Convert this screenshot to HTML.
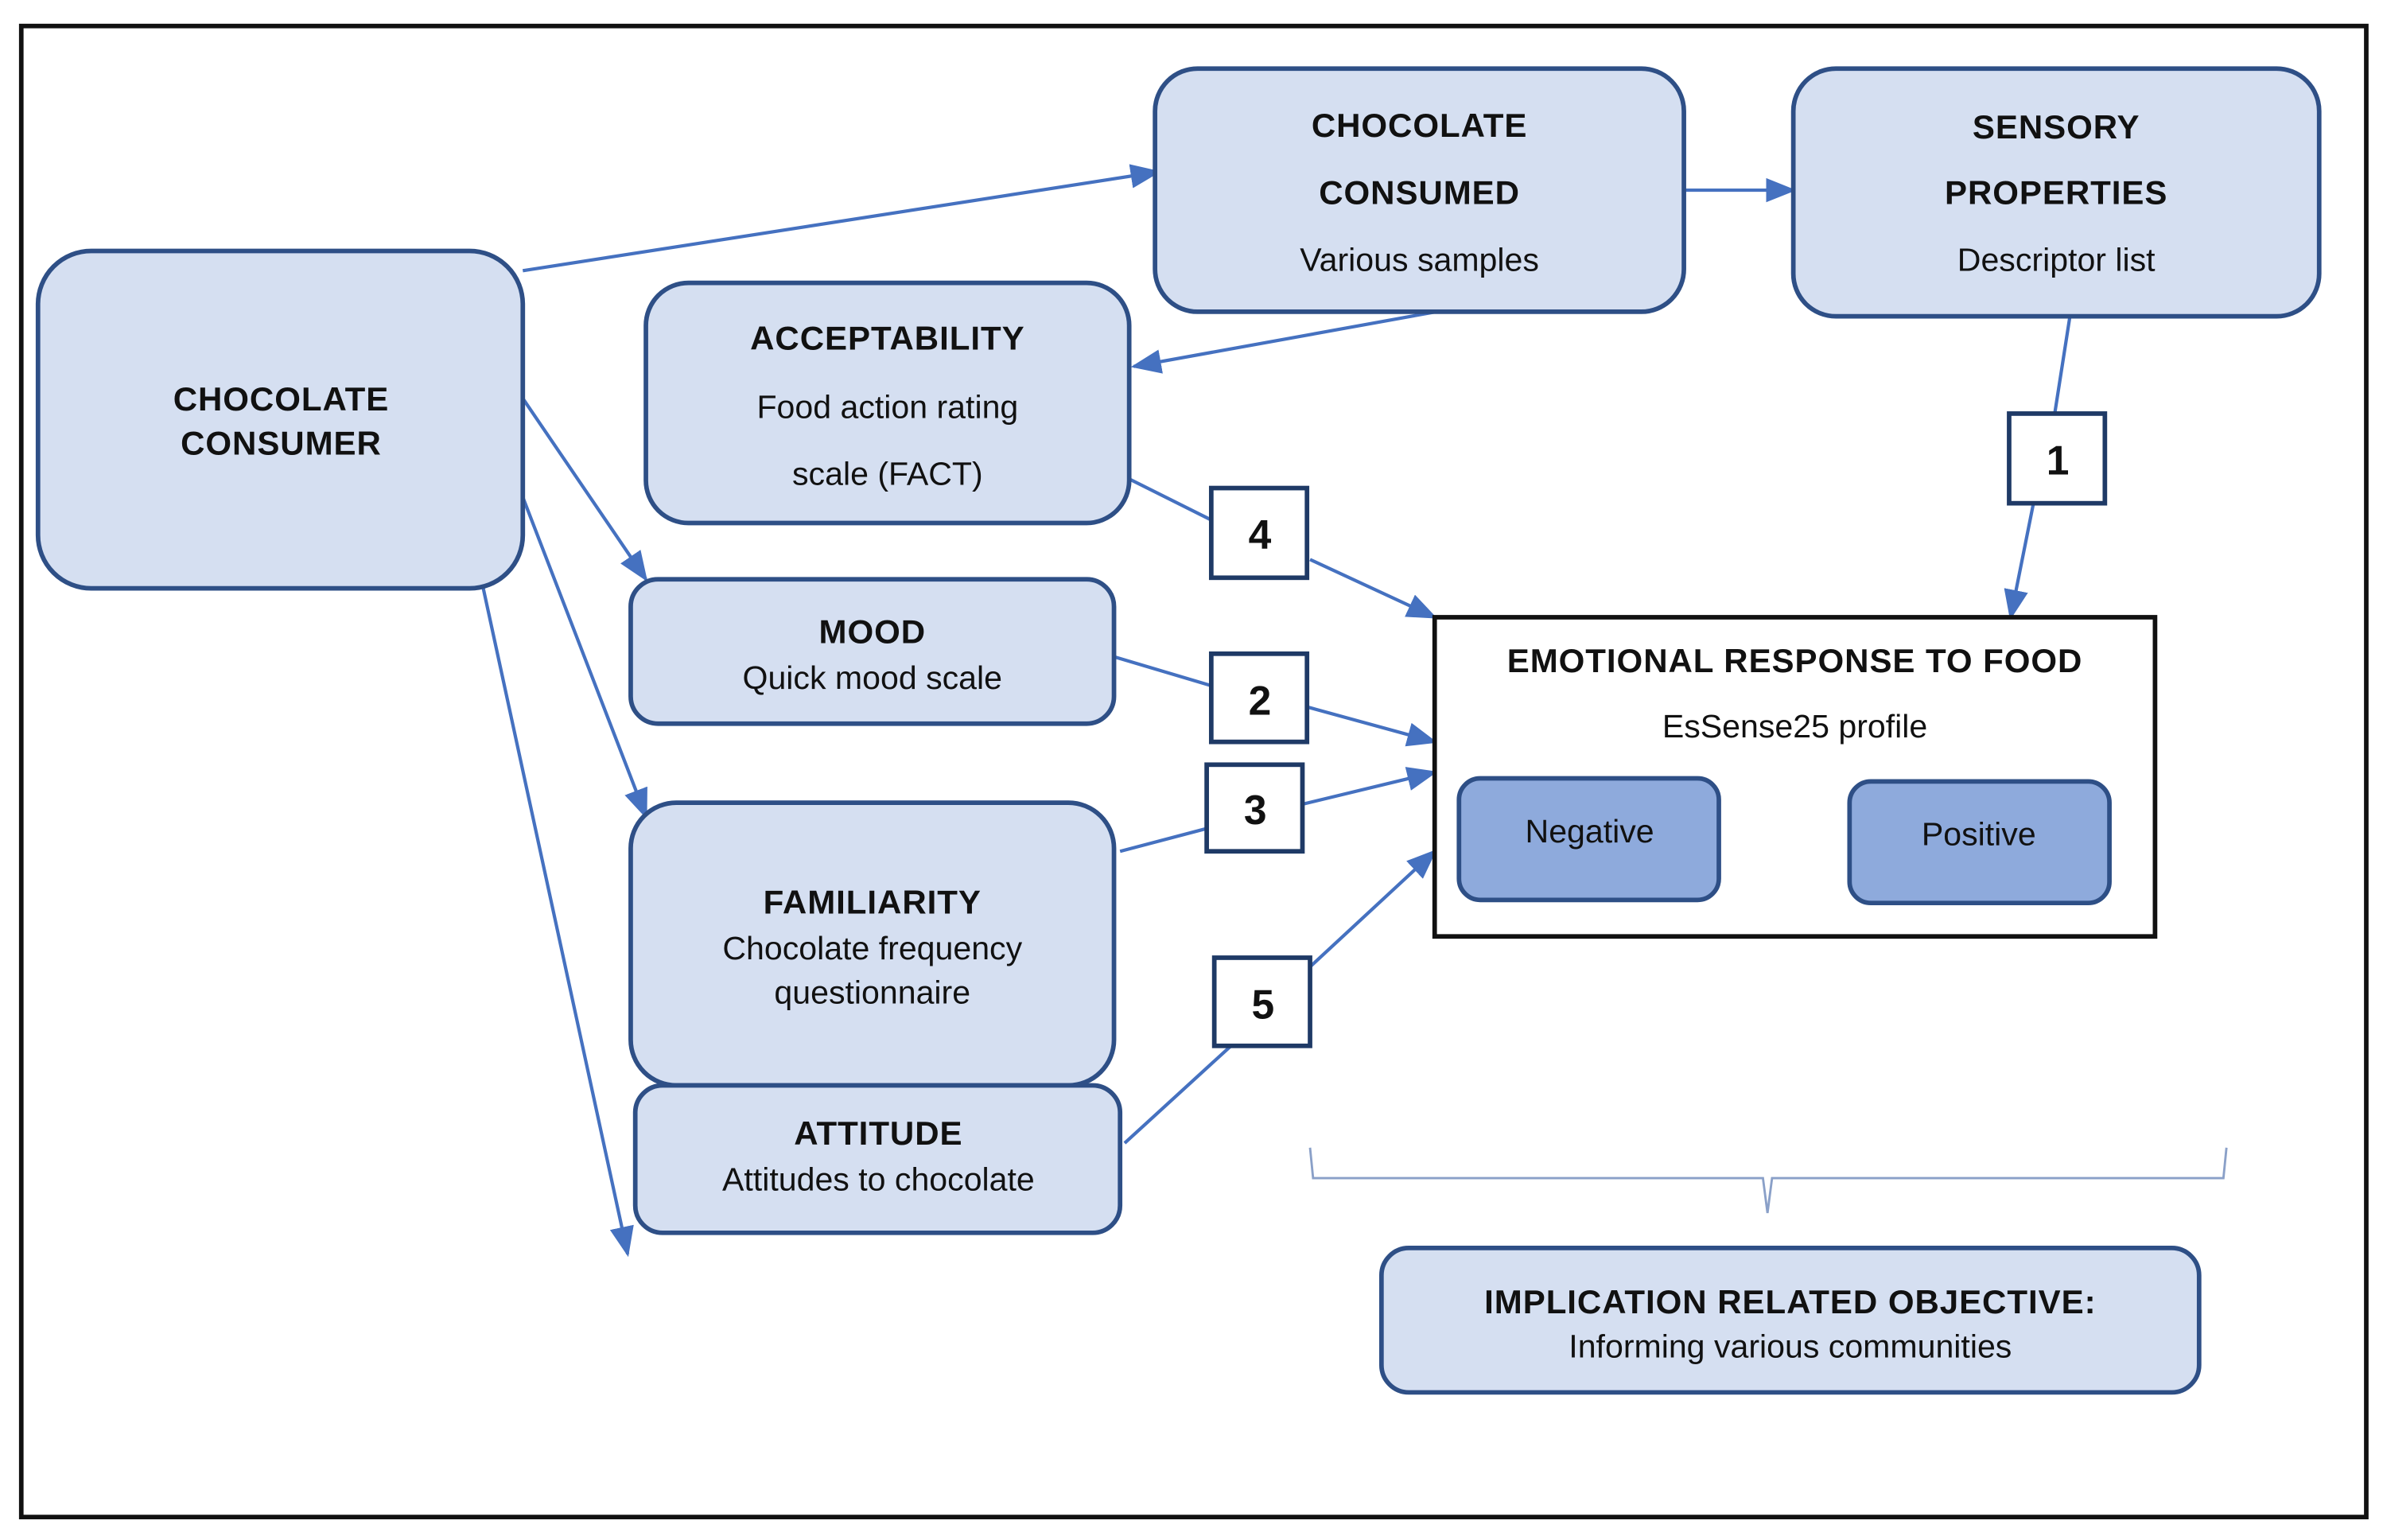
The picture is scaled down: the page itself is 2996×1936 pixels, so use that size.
<!DOCTYPE html>
<html><head><meta charset="utf-8"><style>
html,body{margin:0;padding:0;background:#fff;}
svg{display:block;}
text{font-family:"Liberation Sans",Arial,sans-serif;fill:#111;text-anchor:middle;}
.b{font-weight:bold;font-size:22px;letter-spacing:0.5px;}
.n{font-size:21.5px;}
.num{font-weight:bold;font-size:27px;}
.bx{fill:#d5dff1;stroke:#2e4f86;stroke-width:3;}
.dk{fill:#8eaadc;stroke:#2e4f86;stroke-width:3;}
.ln{stroke:#4571c0;stroke-width:2.2;fill:none;}
.nb{fill:#fff;stroke:#1f3a66;stroke-width:3;}
</style></head><body>
<svg width="2996" height="1936" viewBox="0 0 1568 1013" xmlns="http://www.w3.org/2000/svg">
<defs>
<marker id="a" markerWidth="10" markerHeight="10" refX="9" refY="5" orient="auto" markerUnits="userSpaceOnUse" viewBox="0 0 10 10">
<path d="M0,0 L10,5 L0,10 z" fill="#4571c0" transform="scale(1)"/>
</marker>
<marker id="A" markerWidth="20" markerHeight="16" refX="18" refY="8" orient="auto" markerUnits="userSpaceOnUse">
<path d="M0,0 L20,8 L0,16 z" fill="#4571c0"/>
</marker>
</defs>
<rect x="0" y="0" width="1568" height="1013" fill="#fff"/>
<rect x="14" y="17" width="1543" height="981" fill="none" stroke="#111" stroke-width="3"/>

<!-- connectors -->
<line class="ln" x1="344" y1="178" x2="762" y2="113" marker-end="url(#A)"/>
<line class="ln" x1="1108" y1="125" x2="1180" y2="125" marker-end="url(#A)"/>
<line class="ln" x1="945" y1="205" x2="746" y2="241" marker-end="url(#A)"/>
<line class="ln" x1="1362" y1="208" x2="1352" y2="272"/>
<line class="ln" x1="1338" y1="331" x2="1323" y2="406" marker-end="url(#A)"/>
<line class="ln" x1="743" y1="315" x2="797" y2="342"/>
<line class="ln" x1="862" y1="368" x2="944" y2="406" marker-end="url(#A)"/>
<line class="ln" x1="733" y1="432" x2="797" y2="451"/>
<line class="ln" x1="860" y1="465" x2="944" y2="488" marker-end="url(#A)"/>
<line class="ln" x1="737" y1="560" x2="794" y2="545"/>
<line class="ln" x1="857" y1="529" x2="944" y2="508" marker-end="url(#A)"/>
<line class="ln" x1="740" y1="752" x2="810" y2="688"/>
<line class="ln" x1="862" y1="636" x2="944" y2="560" marker-end="url(#A)"/>
<line class="ln" x1="344" y1="262" x2="425" y2="381" marker-end="url(#A)"/>
<line class="ln" x1="344" y1="327" x2="425" y2="537" marker-end="url(#A)"/>
<line class="ln" x1="318" y1="387" x2="413" y2="825" marker-end="url(#A)"/>

<!-- brace -->
<path d="M862,755 L864,775 L1160,775 L1163,798 L1166,775 L1463,775 L1465,755" fill="none" stroke="#8aa0c8" stroke-width="1.5"/>

<!-- boxes -->
<rect class="bx" x="25" y="165" width="319" height="222" rx="35"/>
<text class="b" x="185" y="270">CHOCOLATE</text>
<text class="b" x="185" y="299">CONSUMER</text>

<rect class="bx" x="760" y="45" width="348" height="160" rx="28"/>
<text class="b" x="934" y="90">CHOCOLATE</text>
<text class="b" x="934" y="134">CONSUMED</text>
<text class="n" x="934" y="178">Various samples</text>

<rect class="bx" x="1180" y="45" width="346" height="163" rx="28"/>
<text class="b" x="1353" y="91">SENSORY</text>
<text class="b" x="1353" y="134">PROPERTIES</text>
<text class="n" x="1353" y="178">Descriptor list</text>

<rect class="bx" x="425" y="186" width="318" height="158" rx="28"/>
<text class="b" x="584" y="230">ACCEPTABILITY</text>
<text class="n" x="584" y="275">Food action rating</text>
<text class="n" x="584" y="319">scale (FACT)</text>

<rect class="bx" x="415" y="381" width="318" height="95" rx="18"/>
<text class="b" x="574" y="423">MOOD</text>
<text class="n" x="574" y="453">Quick mood scale</text>

<rect class="bx" x="415" y="528" width="318" height="186" rx="30"/>
<text class="b" x="574" y="601">FAMILIARITY</text>
<text class="n" x="574" y="631">Chocolate frequency</text>
<text class="n" x="574" y="660">questionnaire</text>

<rect class="bx" x="418" y="714" width="319" height="97" rx="18"/>
<text class="b" x="578" y="753">ATTITUDE</text>
<text class="n" x="578" y="783">Attitudes to chocolate</text>

<rect x="944" y="406" width="474" height="210" fill="#fff" stroke="#111" stroke-width="3"/>
<text class="b" x="1181" y="442">EMOTIONAL RESPONSE TO FOOD</text>
<text class="n" x="1181" y="485">EsSense25 profile</text>
<rect class="dk" x="960" y="512" width="171" height="80" rx="14"/>
<text class="n" x="1046" y="554">Negative</text>
<rect class="dk" x="1217" y="514" width="171" height="80" rx="14"/>
<text class="n" x="1302" y="556">Positive</text>

<rect class="bx" x="909" y="821" width="538" height="95" rx="18"/>
<text class="b" x="1178" y="864">IMPLICATION RELATED OBJECTIVE:</text>
<text class="n" x="1178" y="893">Informing various communities</text>

<!-- number boxes -->
<rect class="nb" x="1322" y="272" width="63" height="59"/><text class="num" x="1354" y="312">1</text>
<rect class="nb" x="797" y="321" width="63" height="59"/><text class="num" x="829" y="361">4</text>
<rect class="nb" x="797" y="430" width="63" height="58"/><text class="num" x="829" y="470">2</text>
<rect class="nb" x="794" y="503" width="63" height="57"/><text class="num" x="826" y="542">3</text>
<rect class="nb" x="799" y="630" width="63" height="58"/><text class="num" x="831" y="670">5</text>
</svg>
</body></html>
